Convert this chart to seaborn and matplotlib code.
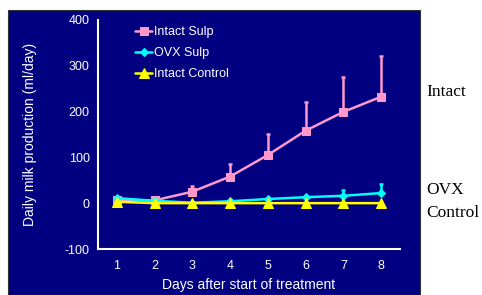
import numpy as np
import pandas as pd
import matplotlib
matplotlib.use('Agg')
import matplotlib.pyplot as plt
import seaborn as sns
from matplotlib.patches import Rectangle

days = [1, 2, 3, 4, 5, 6, 7, 8]
intact_sulp = [7, 6, 25, 58, 105, 158, 199, 232]
intact_sulp_err = [0, 2, 12, 28, 46, 62, 76, 88]
ovx_sulp = [11, 5, 1, 4, 9, 13, 16, 22]
ovx_sulp_err = [0, 0, 0, 0, 0, 3, 12, 20]
intact_control = [3, 0, 0, 0, 0, 0, 0, 0]
intact_control_err = [0, 0, 0, 0, 0, 0, 0, 0]

series = [
    ('Intact Sulp', intact_sulp, intact_sulp_err, '#FF99CC', 's', 6),
    ('OVX Sulp', ovx_sulp, ovx_sulp_err, '#00FFFF', 'D', 4.5),
    ('Intact Control', intact_control, intact_control_err, '#FFFF00', '^', 7),
]

sns.set_style('white')
plt.rcParams['font.family'] = ['Liberation Sans', 'DejaVu Sans']
plt.rcParams['axes.unicode_minus'] = False

fig = plt.figure(figsize=(4.82, 2.95), dpi=100)
W, H = 482, 295

# navy panel behind the chart
fig.patches.append(Rectangle((8 / W, 0), (420 - 8) / W, 1 - 10 / H,
                             transform=fig.transFigure, facecolor='#000080',
                             edgecolor='#333333', linewidth=0.8, zorder=-5))

ax = fig.add_axes([98 / W, 1 - 249 / H, (400 - 98) / W, (249 - 19.7) / H])
ax.set_facecolor('none')
ax.set_zorder(1)

for name, vals, err, col, mk, ms in series:
    df = pd.DataFrame({'day': days, 'val': vals})
    ax.errorbar(days, vals, yerr=[np.zeros(len(err)), err], fmt='none',
                ecolor=col, elinewidth=1.8, capsize=1.5, capthick=1.8, zorder=2)
    sns.lineplot(data=df, x='day', y='val', ax=ax, color=col, marker=mk,
                 markersize=ms, markeredgecolor=col, linewidth=1.8,
                 label=name, zorder=3)

ax.set_xlim(0.5, 8.5)
ax.set_ylim(-100, 400)
ax.set_yticks([-100, 0, 100, 200, 300, 400])
ax.set_xticks(days)
ax.set_xticks(np.arange(0.5, 9, 1), minor=True)
ax.tick_params(axis='x', which='major', length=0, pad=8, colors='white', labelsize=9)
ax.tick_params(axis='x', which='minor', length=3, width=1.3, color='white', direction='out')
ax.tick_params(axis='y', length=3, width=1.3, colors='white', labelsize=9, pad=3)

for s in ['top', 'right']:
    ax.spines[s].set_visible(False)
for s in ['left', 'bottom']:
    ax.spines[s].set_color('white')
    ax.spines[s].set_linewidth(1.5)

ax.set_xlabel('Days after start of treatment', color='white', fontsize=10, labelpad=4)
ax.set_ylabel('Daily milk production (ml/day)', color='white', fontsize=10, labelpad=20)

leg = ax.legend(loc='upper left', bbox_to_anchor=(0.085, 1.02), frameon=False,
                fontsize=9, handlelength=1.4, handletextpad=0.1, labelspacing=0.72,
                labelcolor='white')

fig.text(426 / W, 1 - 92 / H, 'Intact', family='Liberation Serif', fontsize=12.5,
         color='black', va='center')
fig.text(426 / W, 1 - 190 / H, 'OVX', family='Liberation Serif', fontsize=12.5,
         color='black', va='center')
fig.text(426 / W, 1 - 213 / H, 'Control', family='Liberation Serif', fontsize=12.5,
         color='black', va='center')

fig.savefig('out.png', dpi=100, facecolor='white')
